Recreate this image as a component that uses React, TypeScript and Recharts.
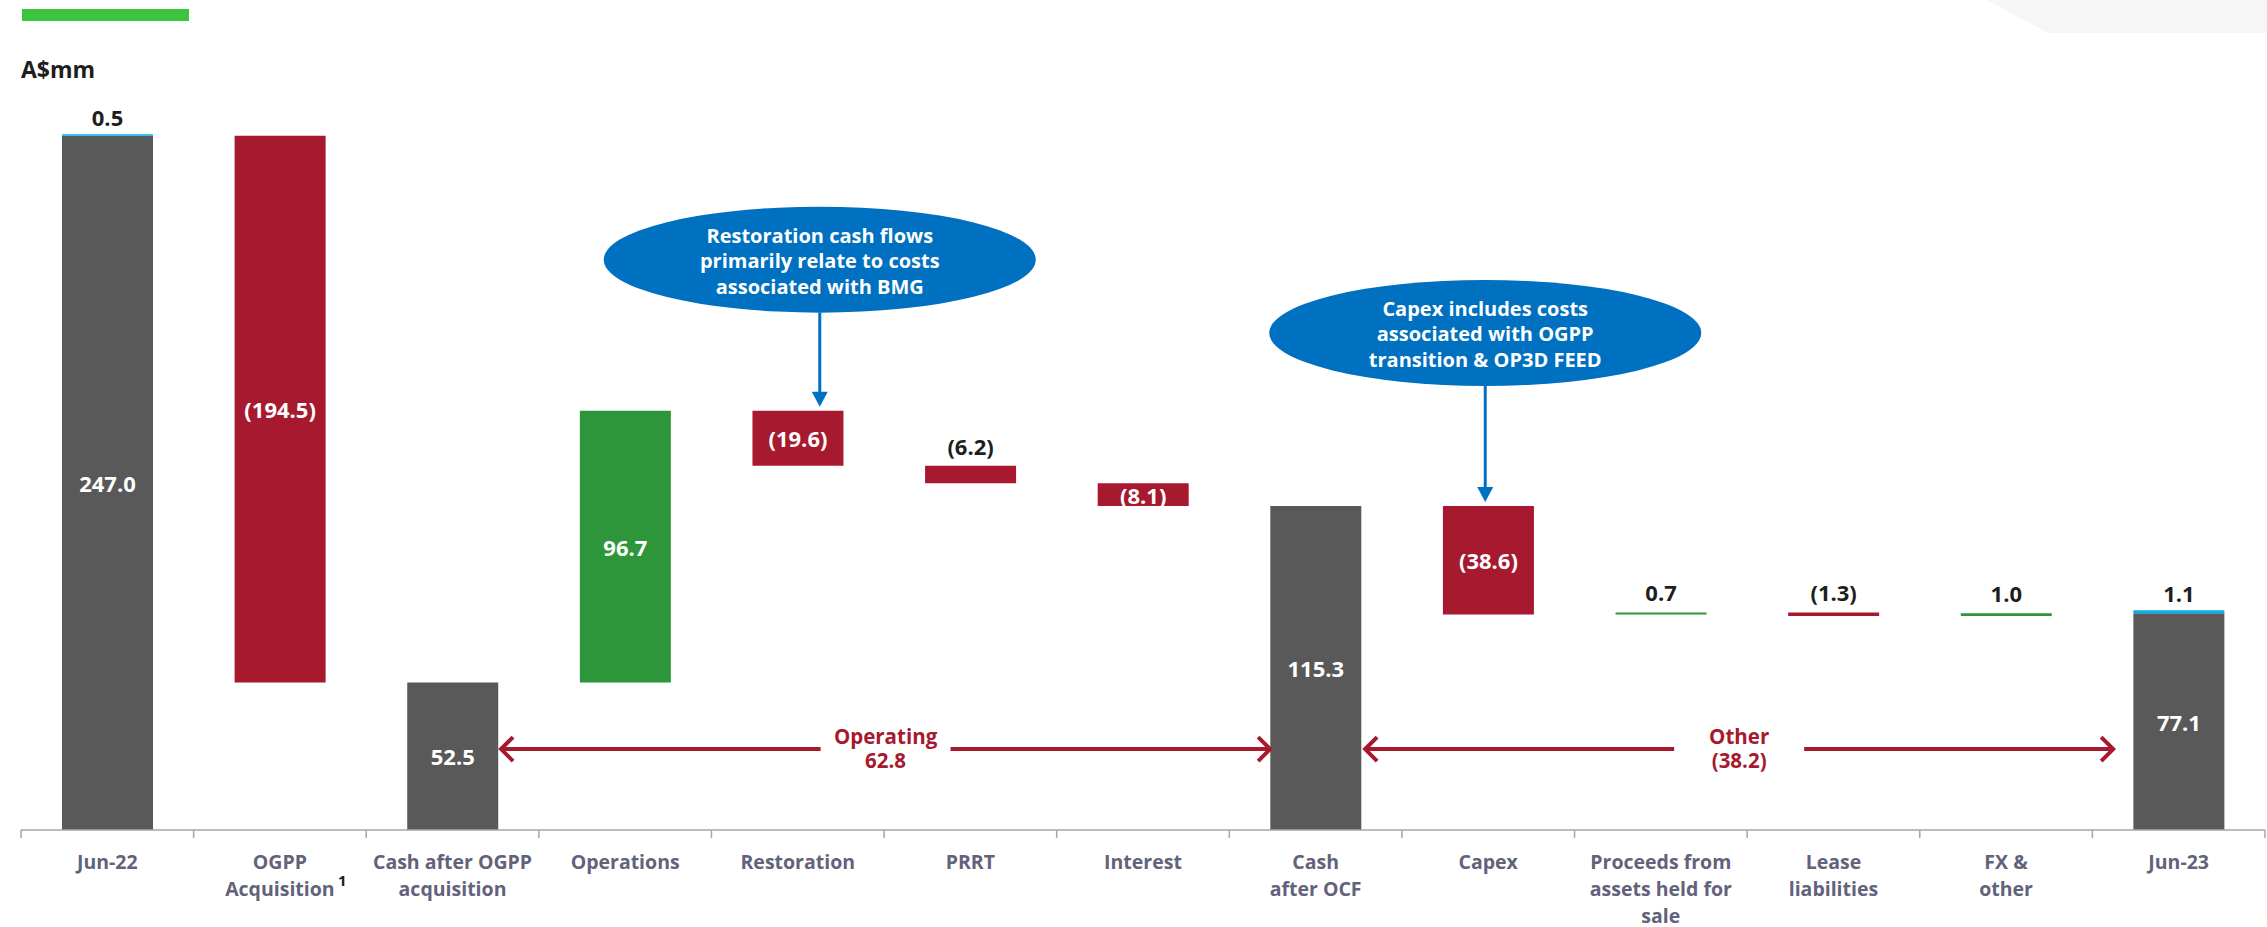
import React from 'react';
import {
  ComposedChart,
  Bar,
  XAxis,
  YAxis,
  Cell,
  LabelList,
  ReferenceDot,
  ReferenceLine,
} from 'recharts';

// ---- data (A$mm) ----
const categories = [
  'Jun-22',
  'OGPP\nAcquisition',
  'Cash after OGPP\nacquisition',
  'Operations',
  'Restoration',
  'PRRT',
  'Interest',
  'Cash\nafter OCF',
  'Capex',
  'Proceeds from\nassets held for\nsale',
  'Lease\nliabilities',
  'FX &\nother',
  'Jun-23',
];
// 'total' bars start at zero, 'delta' bars float from the running level
const kinds = ['total', 'delta', 'total', 'delta', 'delta', 'delta', 'delta', 'total', 'delta', 'delta', 'delta', 'delta', 'total'];
const amounts = [247.0, -194.5, 52.5, 96.7, -19.6, -6.2, -8.1, 115.3, -38.6, 0.7, -1.3, 1.0, 77.1];
const caps = [0.5, 0, 0, 0, 0, 0, 0, 0, 0, 0, 0, 0, 1.1];
const footnotes: Record<string, string> = { 'OGPP\nAcquisition': '1' };

const restorationNote = ['Restoration cash flows', 'primarily relate to costs', 'associated with BMG'];
const capexNote = ['Capex includes costs', 'associated with OGPP', 'transition & OP3D FEED'];

// ---- layout ----
const CHART_W = 2267;
const CHART_H = 927;
const MARGIN = { top: 43, right: 2, left: 21, bottom: 0 };
const XAXIS_H = 97;
const AXIS_Y = CHART_H - MARGIN.bottom - XAXIS_H;
const BAND = (CHART_W - MARGIN.left - MARGIN.right) / categories.length;
const BAR_W = 91;
const BRACKET_LEVEL = 28.8;

const GREY = '#595959';
const RED = '#A6192E';
const GREEN = '#2E963A';
const CAP_BLUE = '#00B0F0';
const CALLOUT = '#0070C0';
const AXIS_TEXT = '#62627A';
const AXIS_LINE = '#A6A6A6';
const DARK = '#1E1E1E';
const FONT = '"Open Sans", "Noto Sans", sans-serif';

const fmt = (v: number) => (v < 0 ? `(${Math.abs(v).toFixed(1)})` : v.toFixed(1));

let level = 0;
const rows = categories.map((name, i) => {
  const amt = amounts[i];
  let base = 0;
  let size = amt;
  let color = GREY;
  if (kinds[i] === 'total') {
    level = amt;
  } else {
    const end = level + amt;
    base = Math.min(level, end);
    size = Math.abs(amt);
    level = end;
    color = amt >= 0 ? GREEN : RED;
  }
  const small = Math.abs(amt) < 7;
  return {
    name,
    base,
    size,
    cap: caps[i],
    color,
    inLabel: small ? null : fmt(amt),
    outLabel: small ? fmt(amt) : null,
    capLabel: caps[i] ? fmt(caps[i]) : null,
  };
});

const sumBetween = (a: number, b: number) =>
  amounts.slice(a + 1, b).reduce((s, v) => s + v, 0);

const brackets = [
  { from: 2, to: 7, title: 'Operating', padStart: 3, padEnd: 0 },
  { from: 7, to: 12, title: 'Other', padStart: 4, padEnd: 20 },
];

const callouts = [
  { at: 4, lines: restorationNote, dx: 22, rise: 151 },
  { at: 8, lines: capexNote, dx: -3, rise: 173 },
];

const CategoryTick = (props: any) => {
  const { x, payload, index } = props;
  const label = String(payload.value);
  const lines = label.split('\n');
  const sup = footnotes[label];
  return (
    <g>
      <line x1={x - BAND / 2} y1={AXIS_Y} x2={x - BAND / 2} y2={AXIS_Y + 8} stroke={AXIS_LINE} strokeWidth={1.5} />
      {index === categories.length - 1 && (
        <line x1={x + BAND / 2} y1={AXIS_Y} x2={x + BAND / 2} y2={AXIS_Y + 8} stroke={AXIS_LINE} strokeWidth={1.5} />
      )}
      {lines.map((ln, i) => (
        <text
          key={i}
          x={x}
          y={AXIS_Y + 31 + i * 27}
          textAnchor="middle"
          dominantBaseline="central"
          fontFamily={FONT}
          fontWeight={700}
          fontSize={19.5}
          fill={AXIS_TEXT}
        >
          {ln}
        </text>
      ))}
      {sup && (
        <text
          x={x + 58}
          y={AXIS_Y + 31 + (lines.length - 1) * 27 - 8}
          dominantBaseline="central"
          fontFamily={FONT}
          fontWeight={700}
          fontSize={15}
          fill={DARK}
        >
          {sup}
        </text>
      )}
    </g>
  );
};

const box = (p: any) => p.viewBox ?? p;

const insideLabel = (p: any) => {
  if (p.value == null) return null;
  const vb = box(p);
  return (
    <text
      x={vb.x + vb.width / 2}
      y={vb.y + vb.height / 2}
      textAnchor="middle"
      dominantBaseline="central"
      fill="#fff"
      fontFamily={FONT}
      fontWeight={700}
      fontSize={22}
    >
      {p.value}
    </text>
  );
};

const outsideLabel = (gap: number) => (p: any) => {
  if (p.value == null) return null;
  const vb = box(p);
  return (
    <text
      x={vb.x + vb.width / 2}
      y={vb.y - gap}
      textAnchor="middle"
      dominantBaseline="central"
      fill={DARK}
      fontFamily={FONT}
      fontWeight={700}
      fontSize={22}
    >
      {p.value}
    </text>
  );
};

const calloutShape = (c: (typeof callouts)[number]) => (p: any) => {
  const { cx, cy } = p;
  const ex = cx + c.dx;
  const ey = cy - c.rise;
  const tipY = cy - 4;
  return (
    <g>
      <ellipse cx={ex} cy={ey} rx={216} ry={53} fill={CALLOUT} />
      <line x1={ex} y1={ey + 53} x2={ex} y2={tipY - 14} stroke={CALLOUT} strokeWidth={3} />
      <polygon points={`${ex - 8},${tipY - 15} ${ex + 8},${tipY - 15} ${ex},${tipY}`} fill={CALLOUT} />
      {c.lines.map((ln, i) => (
        <text
          key={i}
          x={ex}
          y={ey + 1 + (i - 1) * 25.5}
          textAnchor="middle"
          dominantBaseline="central"
          fill="#fff"
          fontFamily={FONT}
          fontWeight={700}
          fontSize={20}
        >
          {ln}
        </text>
      ))}
    </g>
  );
};

const bracketShape = (b: (typeof brackets)[number]) => (p: any) => {
  const { x1, x2, y1 } = p;
  const y = y1;
  const xs = x1 + BAR_W / 2 + b.padStart;
  const xe = x2 - BAR_W / 2 - b.padEnd;
  const mid = (xs + xe) / 2;
  const gap = 65;
  const head = 12;
  return (
    <g>
      <line x1={xs + 1} y1={y} x2={mid - gap} y2={y} stroke={RED} strokeWidth={4} />
      <line x1={mid + gap} y1={y} x2={xe - 1} y2={y} stroke={RED} strokeWidth={4} />
      <polyline points={`${xs + head},${y - head} ${xs},${y} ${xs + head},${y + head}`} fill="none" stroke={RED} strokeWidth={4} />
      <polyline points={`${xe - head},${y - head} ${xe},${y} ${xe - head},${y + head}`} fill="none" stroke={RED} strokeWidth={4} />
      <text x={mid} y={y - 13} textAnchor="middle" dominantBaseline="central" fill={RED} fontFamily={FONT} fontWeight={700} fontSize={20.5}>
        {b.title}
      </text>
      <text x={mid} y={y + 11} textAnchor="middle" dominantBaseline="central" fill={RED} fontFamily={FONT} fontWeight={700} fontSize={20.5}>
        {fmt(sumBetween(b.from, b.to))}
      </text>
    </g>
  );
};

export default function App() {
  return (
    <div
      style={{
        position: 'absolute',
        left: 0,
        top: 0,
        width: CHART_W,
        height: CHART_H,
        background: '#fff',
        overflow: 'hidden',
      }}
    >
      <svg width={CHART_W} height={40} style={{ position: 'absolute', left: 0, top: 0 }}>
        <polygon points="1987,0 2267,0 2267,33 2048,33" fill="#F6F6F6" />
        <rect x={22} y={9} width={167} height={12} fill="#3DC43F" />
      </svg>
      <div
        style={{
          position: 'absolute',
          left: 21,
          top: 54,
          fontFamily: FONT,
          fontWeight: 700,
          fontSize: 23,
          lineHeight: '30px',
          color: DARK,
        }}
      >
        A$mm
      </div>
      <div style={{ position: 'absolute', left: 0, top: 0 }}>
        <ComposedChart width={CHART_W} height={CHART_H} data={rows} margin={MARGIN} barSize={BAR_W}>
          <XAxis
            dataKey="name"
            interval={0}
            height={XAXIS_H}
            tickLine={false}
            axisLine={{ stroke: AXIS_LINE, strokeWidth: 1.5 }}
            tick={<CategoryTick />}
          />
          <YAxis hide domain={[0, 280]} />
          <Bar dataKey="base" stackId="w" fill="transparent" isAnimationActive={false} />
          <Bar dataKey="size" stackId="w" isAnimationActive={false}>
            {rows.map((r, i) => (
              <Cell key={i} fill={r.color} />
            ))}
            <LabelList dataKey="inLabel" content={insideLabel} />
            <LabelList dataKey="outLabel" content={outsideLabel(20)} />
          </Bar>
          <Bar dataKey="cap" stackId="w" fill={CAP_BLUE} isAnimationActive={false}>
            <LabelList dataKey="capLabel" content={outsideLabel(17)} />
          </Bar>
          {brackets.map((b, i) => (
            <ReferenceLine
              key={`br${i}`}
              ifOverflow="visible"
              segment={[
                { x: categories[b.from], y: BRACKET_LEVEL },
                { x: categories[b.to], y: BRACKET_LEVEL },
              ]}
              shape={bracketShape(b)}
            />
          ))}
          {callouts.map((c, i) => (
            <ReferenceDot
              key={`co${i}`}
              ifOverflow="visible"
              x={categories[c.at]}
              y={rows[c.at].base + rows[c.at].size}
              shape={calloutShape(c)}
            />
          ))}
        </ComposedChart>
      </div>
    </div>
  );
}
